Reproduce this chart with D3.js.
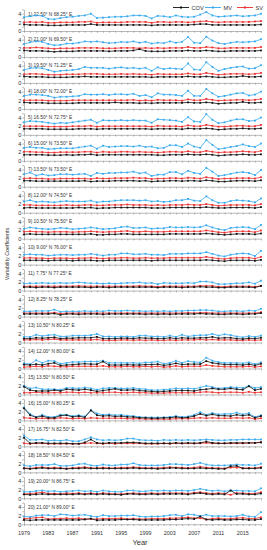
<!DOCTYPE html>
<html><head><meta charset="utf-8">
<script src="https://cdn.jsdelivr.net/npm/d3@7"></script>
<style>body{margin:0;background:#fff}svg{display:block}text{font-family:"Liberation Sans Narrow","Liberation Sans",Arial,sans-serif}</style>
</head><body><svg id="c" width="267" height="550"></svg>
<script>
const years = [1979,1980,1981,1982,1983,1984,1985,1986,1987,1988,1989,1990,1991,1992,1993,1994,1995,1996,1997,1998,1999,2000,2001,2002,2003,2004,2005,2006,2007,2008,2009,2010,2011,2012,2013,2014,2015,2016,2017,2018];
const yearLabels = [1979,1983,1987,1991,1995,1999,2003,2007,2011,2015];
const yTicks = [0,1,2,3,4,5];
const yTickLabels = [0,2,4];
const seriesNames = ["COV","MV","SV"];
const stationLabels = [
"1) 22.50° N  68.25° E","2) 21.00° N  69.50° E","3) 19.50° N  71.25° E","4) 18.00° N  72.00° E",
"5) 16.50° N  72.75° E","6) 15.00° N  73.50° E","7) 13.50° N  73.50° E","8) 12.00° N  74.50° E",
"9) 10.50° N  75.50° E","10) 9.00° N  76.00° E","11) 7.75° N  77.25° E","12) 8.25° N  78.25° E",
"13) 10.50° N  80.25° E","14) 12.00° N  80.00° E","15) 13.50° N  80.50° E","16) 15.00° N 80.25° E",
"17) 16.75° N  82.50° E","18) 18.50° N  84.50° E","19) 20.00° N  86.75° E","20) 21.00° N  89.00° E"];

const mvData = [
[3.2,3.4,3.6,3.5,2.8,2.7,3.0,3.2,3.3,3.5, 3.6,4.0,3.0,3.1,3.2,3.3,3.3,3.4,3.6,3.6, 3.5,2.9,3.5,3.4,3.2,3.6,3.3,3.2,3.3,3.8, 4.4,3.6,3.3,3.4,3.5,3.6,3.4,3.5,3.6,4.0],
[3.0,3.4,3.6,3.5,3.0,2.7,2.8,3.1,3.1,3.3, 3.6,3.5,3.6,3.4,3.2,3.3,3.5,3.4,3.6,3.3, 3.5,3.1,3.3,3.2,3.6,3.3,3.5,4.6,3.3,3.2, 4.7,3.8,3.2,3.0,3.3,3.5,3.4,3.5,3.6,4.1],
[3.0,3.4,3.5,3.4,3.0,2.6,2.8,2.9,3.0,3.2, 3.7,3.5,3.5,3.5,3.3,3.5,3.6,3.4,3.5,3.3, 3.5,2.8,3.6,3.2,3.4,3.3,3.2,4.5,3.1,3.0, 4.8,3.7,2.8,3.2,3.5,3.7,3.8,3.3,3.4,4.1],
[3.0,3.3,3.3,3.2,3.0,2.6,2.8,2.8,2.9,3.0, 3.4,3.3,3.3,3.4,3.2,3.4,3.4,3.3,3.5,3.0, 3.2,2.7,3.6,3.3,3.3,3.2,3.0,4.2,3.0,3.0, 4.6,3.6,2.8,3.0,3.3,3.6,3.7,3.1,3.3,4.0],
[2.9,3.2,3.1,3.0,2.8,2.6,2.8,2.7,2.9,3.1, 3.3,3.5,2.8,3.4,3.3,3.3,3.4,3.3,3.4,3.3, 3.3,2.8,3.6,3.5,3.4,3.3,3.0,4.1,3.1,3.0, 4.8,3.5,2.7,2.9,3.3,3.6,3.6,3.2,3.3,4.0],
[3.0,3.2,3.0,3.0,2.7,2.8,2.9,2.9,2.9,3.1, 3.3,3.5,2.8,3.5,3.2,3.3,3.4,3.4,3.3,3.5, 3.2,3.3,2.9,3.0,3.6,3.6,3.2,4.0,3.3,3.0, 4.8,3.7,2.7,2.9,3.2,3.4,3.8,3.4,3.2,4.0],
[2.9,3.3,2.6,2.9,2.6,2.7,2.9,2.9,2.8,2.9, 3.0,2.5,3.2,3.0,3.2,3.2,3.3,3.3,3.5,3.1, 3.3,2.5,2.8,2.8,3.4,3.4,2.9,3.7,3.2,3.0, 4.4,3.5,2.5,2.7,3.0,3.3,3.4,3.2,2.7,3.9],
[2.6,2.9,2.5,2.6,2.5,2.4,2.6,2.7,2.6,2.6, 2.6,2.8,2.4,2.6,2.6,2.8,2.9,2.9,2.9,2.8, 2.9,2.6,2.7,2.5,2.6,2.9,2.9,3.2,2.8,2.7, 3.8,2.9,2.3,2.3,2.7,2.9,2.8,2.7,2.4,3.3],
[2.3,2.6,2.4,2.3,2.2,2.3,2.5,2.4,2.2,2.3, 2.4,2.6,2.4,2.2,2.3,2.4,2.7,2.8,2.5,2.5, 2.6,2.3,2.4,2.4,2.7,2.6,2.6,2.7,2.6,2.7, 3.1,2.6,2.2,2.0,2.5,2.6,2.7,2.6,2.2,3.2],
[2.3,2.4,2.3,2.3,2.1,2.2,2.3,2.3,2.2,2.3, 2.3,2.5,2.3,2.1,2.3,2.3,2.6,2.6,2.4,2.4, 2.5,2.3,2.3,2.2,2.5,2.5,2.5,2.6,2.6,2.6, 2.9,2.5,2.1,1.9,2.3,2.5,2.6,2.5,2.0,3.2],
[1.6,1.7,1.7,1.8,1.7,1.7,1.8,1.7,1.8,1.9, 1.8,1.7,1.7,1.6,1.7,1.6,1.7,1.8,1.8,1.9, 1.7,1.8,1.5,1.8,1.7,1.7,1.7,1.8,1.7,2.1, 2.1,1.9,1.5,1.5,1.6,1.7,1.7,1.9,1.6,2.3],
[1.2,1.2,1.3,1.3,1.3,1.6,1.1,1.2,1.2,1.2, 1.3,1.2,1.3,1.2,1.4,1.3,1.3,1.4,1.3,1.3, 1.2,1.3,1.2,1.3,1.2,1.3,1.3,1.4,1.4,1.5, 1.5,1.4,1.2,1.2,1.3,1.3,1.2,1.4,1.3,1.8],
[1.3,1.3,1.8,1.5,1.7,1.8,1.4,1.4,1.6,1.6, 1.6,1.7,2.0,1.4,1.4,1.3,1.4,1.4,1.3,1.6, 1.6,1.4,1.4,1.3,1.6,1.3,1.8,1.4,1.6,1.7, 1.7,2.0,1.6,1.9,1.7,1.4,1.2,1.5,1.3,1.6],
[1.2,1.0,1.9,1.3,1.8,1.7,1.1,1.3,1.5,1.5, 1.6,1.6,1.6,1.8,1.3,1.3,1.3,1.3,1.3,1.2, 1.4,1.4,1.6,1.1,1.3,1.8,1.3,1.7,1.5,1.4, 2.5,1.8,1.5,1.3,1.3,1.3,1.2,1.4,1.0,1.4],
[2.0,1.4,1.6,1.2,1.2,1.2,1.1,1.5,1.5,1.4, 1.6,1.4,1.1,1.4,1.5,1.5,1.4,1.4,1.5,1.3, 1.2,1.0,1.0,1.1,1.2,1.4,1.3,1.4,1.3,1.6, 2.0,1.7,1.4,1.5,1.7,1.6,1.5,2.0,1.5,1.7],
[3.0,1.5,0.8,1.3,0.8,0.8,1.3,1.3,1.0,1.2, 0.9,2.4,1.6,1.3,1.4,1.2,1.3,1.1,1.0,0.8, 0.7,0.7,0.7,0.7,0.8,1.0,0.8,0.9,1.3,1.9, 1.3,1.7,1.4,1.5,1.5,1.8,1.4,1.7,0.8,1.2],
[2.5,1.5,1.5,1.6,1.3,1.4,1.3,1.5,1.2,1.2, 1.6,2.1,1.6,1.4,1.5,1.4,1.5,1.8,1.8,1.5, 1.4,1.4,1.3,1.5,1.4,1.5,1.4,1.5,1.4,1.5, 1.6,1.5,1.4,1.4,1.5,1.5,1.6,1.6,1.6,1.6],
[1.6,1.4,1.7,1.7,1.7,1.9,1.5,1.5,1.6,1.9, 2.0,1.6,1.5,1.8,1.6,1.6,1.8,1.8,2.1,1.7, 1.6,1.6,1.6,1.7,1.9,1.9,1.8,1.7,1.9,2.2, 1.8,1.6,1.6,1.6,1.7,1.8,1.7,1.7,1.6,2.0],
[1.5,1.5,1.7,1.8,1.6,1.7,1.5,1.6,1.7,1.8, 1.6,1.7,1.5,1.8,1.6,1.5,1.5,1.8,1.8,1.6, 1.6,1.8,1.7,1.8,1.7,1.8,1.8,1.7,1.9,2.2, 1.9,1.7,1.8,1.6,1.8,1.8,1.7,1.7,1.6,2.3],
[1.8,1.7,2.0,2.1,2.1,1.9,2.3,2.2,2.0,2.1, 2.2,1.9,1.7,2.1,1.9,1.9,2.0,2.0,2.1,1.8, 1.7,1.8,1.8,1.9,2.1,2.2,1.9,2.3,2.2,1.9, 2.2,1.9,1.9,1.9,1.8,1.9,2.2,1.8,1.7,2.8]];

const svData = [
[2.0,2.1,2.0,2.1,1.9,1.9,2.0,2.0,2.0,2.1, 2.1,2.2,1.9,2.0,2.0,2.0,2.0,2.1,2.1,2.1, 2.1,1.9,2.1,2.1,2.0,2.1,2.1,2.0,2.1,2.2, 2.3,2.1,2.0,2.1,2.1,2.1,2.1,2.1,2.2,2.3],
[2.1,2.1,2.2,2.1,2.0,1.9,2.0,2.0,2.0,2.1, 2.1,2.1,2.1,2.0,2.0,2.0,2.1,2.1,2.1,2.0, 2.1,2.0,2.1,2.0,2.1,2.1,2.1,2.3,2.1,2.1, 2.3,2.2,2.0,2.0,2.1,2.1,2.1,2.1,2.1,2.3],
[2.0,2.1,2.1,2.0,1.9,1.9,1.9,2.0,2.0,2.0, 2.1,2.1,2.1,2.0,2.0,2.0,2.1,2.0,2.1,2.0, 2.0,1.9,2.1,2.0,2.0,2.0,2.0,2.2,2.0,2.0, 2.3,2.1,1.9,2.0,2.1,2.1,2.1,2.0,2.1,2.3],
[2.0,2.0,2.0,2.0,1.9,1.9,1.9,1.9,2.0,2.0, 2.0,2.0,2.0,2.0,2.0,2.0,2.0,2.0,2.1,1.9, 2.0,1.9,2.1,2.0,2.0,2.0,1.9,2.2,2.0,2.0, 2.3,2.1,1.9,2.0,2.0,2.1,2.1,2.0,2.1,2.3],
[2.0,2.0,2.0,2.0,1.9,1.9,1.9,1.9,2.0,2.0, 2.0,2.1,1.9,2.0,2.0,2.0,2.0,2.0,2.0,2.0, 2.0,1.9,2.1,2.0,2.0,2.0,1.9,2.2,2.0,2.0, 2.3,2.1,1.9,1.9,2.0,2.1,2.1,2.0,2.0,2.3],
[2.1,2.1,2.0,2.0,1.9,1.9,2.0,2.0,2.0,2.0, 2.1,2.1,1.9,2.1,2.0,2.0,2.1,2.1,2.0,2.1, 2.0,2.0,1.9,2.0,2.1,2.1,2.0,2.2,2.0,2.0, 2.3,2.1,1.9,2.0,2.0,2.1,2.2,2.1,2.0,2.3],
[1.9,2.0,1.9,1.9,1.8,1.8,1.9,1.9,1.9,1.9, 1.9,1.8,2.0,1.9,1.9,2.0,2.0,2.0,2.1,2.0, 2.0,1.8,1.9,1.9,2.0,2.0,1.9,2.1,2.0,1.9, 2.2,2.0,1.8,1.9,1.9,2.0,2.0,2.0,1.9,2.2],
[1.8,1.8,1.7,1.7,1.7,1.7,1.7,1.8,1.7,1.7, 1.8,1.8,1.7,1.7,1.8,1.8,1.8,1.9,1.8,1.8, 1.8,1.7,1.8,1.7,1.8,1.8,1.8,1.9,1.8,1.8, 2.0,1.8,1.6,1.7,1.8,1.8,1.8,1.8,1.7,2.0],
[1.6,1.7,1.6,1.6,1.5,1.6,1.6,1.6,1.5,1.6, 1.6,1.7,1.6,1.5,1.6,1.6,1.7,1.8,1.6,1.6, 1.7,1.6,1.6,1.6,1.7,1.7,1.7,1.7,1.7,1.7, 1.9,1.7,1.5,1.4,1.6,1.7,1.7,1.7,1.5,1.9],
[1.5,1.6,1.5,1.5,1.4,1.5,1.5,1.5,1.4,1.5, 1.5,1.6,1.5,1.4,1.5,1.5,1.6,1.6,1.5,1.5, 1.6,1.5,1.5,1.5,1.6,1.6,1.6,1.6,1.6,1.6, 1.8,1.6,1.4,1.3,1.5,1.6,1.6,1.6,1.4,1.8],
[1.0,1.0,1.0,1.0,1.0,1.0,1.0,1.0,1.0,1.1, 1.0,1.0,1.0,1.0,1.0,1.0,1.0,1.0,1.0,1.1, 1.0,1.0,0.9,1.0,1.0,1.0,1.0,1.0,1.0,1.1, 1.1,1.1,0.9,0.9,1.0,1.0,1.0,1.0,0.9,1.1],
[0.8,0.8,0.8,0.8,0.8,0.9,0.7,0.8,0.8,0.8, 0.8,0.8,0.8,0.8,0.8,0.8,0.8,0.8,0.8,0.8, 0.8,0.8,0.8,0.8,0.8,0.8,0.8,0.9,0.8,0.9, 0.9,0.8,0.8,0.8,0.8,0.8,0.8,0.8,0.8,1.0],
[0.6,0.6,0.7,0.6,0.7,0.8,0.6,0.6,0.6,0.6, 0.6,0.6,0.7,0.5,0.5,0.5,0.6,0.6,0.5,0.6, 0.5,0.6,0.5,0.5,0.6,0.5,0.6,0.6,0.6,0.7, 0.6,0.7,0.6,0.6,0.6,0.5,0.5,0.6,0.5,0.6],
[0.3,0.4,0.5,0.4,0.6,0.5,0.4,0.4,0.5,0.5, 0.5,0.5,0.5,0.6,0.4,0.4,0.4,0.5,0.4,0.4, 0.5,0.4,0.5,0.3,0.4,0.6,0.4,0.5,0.5,0.5, 0.8,0.6,0.5,0.4,0.4,0.4,0.4,0.5,0.3,0.5],
[0.4,0.4,0.5,0.4,0.4,0.4,0.4,0.5,0.5,0.4, 0.5,0.4,0.4,0.4,0.5,0.5,0.4,0.4,0.5,0.4, 0.4,0.3,0.3,0.3,0.4,0.4,0.4,0.4,0.4,0.5, 0.6,0.5,0.4,0.5,0.5,0.5,0.4,0.6,0.4,0.5],
[0.6,0.5,0.4,0.5,0.4,0.4,0.6,0.5,0.4,0.5, 0.4,0.6,0.5,0.5,0.5,0.5,0.5,0.4,0.4,0.4, 0.3,0.3,0.3,0.3,0.3,0.4,0.4,0.4,0.5,0.6, 0.5,0.6,0.5,0.5,0.5,0.6,0.5,0.6,0.3,0.5],
[0.7,0.6,0.7,0.7,0.6,0.6,0.6,0.6,0.6,0.6, 0.7,0.8,0.7,0.6,0.7,0.6,0.7,0.7,0.7,0.7, 0.6,0.6,0.6,0.7,0.6,0.7,0.7,0.7,0.7,0.7, 0.8,0.7,0.7,0.7,0.7,0.7,0.7,0.8,0.8,1.0],
[1.0,0.9,1.1,1.2,1.0,1.1,1.0,0.9,1.0,1.1, 1.2,1.0,1.0,1.1,1.0,1.0,1.1,1.1,1.2,1.1, 1.0,1.0,1.0,1.1,1.2,1.1,1.1,1.0,1.1,1.3, 1.1,1.0,1.0,0.9,1.1,1.1,1.0,1.0,1.0,1.2],
[1.0,1.1,1.2,1.4,1.1,1.1,1.0,1.2,1.1,1.2, 1.0,1.2,1.0,1.2,1.1,1.0,1.0,1.1,1.2,1.1, 1.1,1.2,1.1,1.2,1.2,1.2,1.2,1.1,1.3,1.4, 1.2,1.1,1.2,1.1,0.8,1.2,1.2,1.1,1.1,1.4],
[1.3,1.4,1.5,1.6,1.2,1.3,1.3,1.4,1.3,1.4, 1.2,1.2,1.2,1.3,1.3,1.3,1.4,1.2,1.3,1.2, 1.2,1.3,1.3,1.3,1.4,1.4,1.5,1.6,1.4,1.4, 1.1,1.3,1.4,1.2,1.3,1.4,1.5,1.3,1.3,1.6]];

const covData = [
[1.5,1.4,1.4,1.4,1.3,1.3,1.3,1.4,1.4,1.4, 1.4,1.6,1.4,1.4,1.4,1.4,1.4,1.4,1.4,1.4, 1.4,1.3,1.4,1.4,1.4,1.4,1.4,1.4,1.5,1.6, 1.6,1.4,1.4,1.4,1.4,1.4,1.4,1.4,1.4,1.5],
[1.5,1.4,1.4,1.4,1.3,1.2,1.3,1.3,1.3,1.4, 1.4,1.4,1.4,1.4,1.3,1.4,1.4,1.4,1.5,1.8, 1.4,1.3,1.3,1.3,1.4,1.4,1.4,1.5,1.4,1.4, 1.5,1.4,1.3,1.3,1.4,1.4,1.4,1.4,1.4,1.5],
[1.5,1.4,1.4,1.4,1.3,1.3,1.3,1.3,1.4,1.4, 1.5,1.4,1.4,1.4,1.4,1.4,1.4,1.4,1.4,1.4, 1.4,1.3,1.4,1.4,1.4,1.4,1.4,1.5,1.4,1.4, 1.5,1.4,1.3,1.3,1.4,1.4,1.6,1.4,1.4,1.5],
[1.5,1.4,1.4,1.4,1.3,1.3,1.3,1.3,1.3,1.4, 1.4,1.4,1.4,1.4,1.4,1.5,1.4,1.4,1.4,1.3, 1.4,1.3,1.4,1.4,1.4,1.4,1.4,1.5,1.4,1.4, 1.5,1.4,1.2,1.3,1.4,1.4,1.6,1.4,1.4,1.5],
[1.4,1.4,1.4,1.4,1.3,1.3,1.3,1.3,1.3,1.4, 1.4,1.4,1.3,1.4,1.4,1.4,1.4,1.4,1.4,1.4, 1.4,1.3,1.4,1.4,1.4,1.4,1.3,1.5,1.4,1.4, 1.5,1.4,1.2,1.3,1.4,1.4,1.5,1.4,1.4,1.5],
[1.4,1.4,1.4,1.4,1.3,1.3,1.3,1.4,1.3,1.4, 1.4,1.5,1.3,1.4,1.4,1.4,1.4,1.4,1.4,1.4, 1.4,1.4,1.3,1.3,1.4,1.4,1.4,1.5,1.4,1.4, 1.5,1.4,1.2,1.3,1.4,1.4,1.5,1.4,1.4,1.5],
[1.4,1.4,1.3,1.3,1.3,1.3,1.3,1.3,1.3,1.3, 1.4,1.2,1.3,1.3,1.3,1.4,1.4,1.4,1.4,1.3, 1.4,1.2,1.3,1.3,1.4,1.4,1.3,1.4,1.4,1.3, 1.5,1.4,1.2,1.2,1.3,1.4,1.4,1.4,1.3,1.5],
[1.1,1.2,1.1,1.1,1.1,1.1,1.1,1.1,1.1,1.2, 1.1,1.2,1.0,1.1,1.1,1.2,1.2,1.2,1.2,1.2, 1.2,1.1,1.1,1.1,1.2,1.2,1.2,1.2,1.2,1.2, 1.3,1.2,1.1,1.1,1.2,1.2,1.2,1.2,1.1,1.3],
[1.0,1.1,1.0,1.0,1.0,1.0,1.0,1.0,1.0,1.0, 1.0,1.1,0.9,0.9,1.0,1.0,1.1,1.1,1.0,1.0, 1.0,1.0,1.0,1.0,1.1,1.1,1.1,1.1,1.1,1.1, 1.2,1.1,1.0,0.9,1.0,1.1,1.1,1.1,1.0,1.2],
[1.0,1.0,1.0,1.0,0.9,1.0,1.0,1.0,0.9,1.0, 1.0,1.0,0.9,0.9,1.0,1.0,1.0,1.0,1.0,1.0, 1.0,0.9,1.0,1.0,1.0,1.0,1.0,1.0,1.0,1.0, 1.1,1.0,0.9,0.8,1.0,1.0,1.0,1.0,0.9,1.1],
[0.8,0.8,0.7,0.8,0.8,0.7,0.8,0.8,0.8,0.8, 0.8,0.7,0.8,0.8,0.7,0.8,0.8,0.8,0.8,0.8, 0.8,0.8,0.7,0.8,0.8,0.8,0.7,0.8,0.8,0.9, 0.8,0.8,0.7,0.7,0.8,0.8,0.8,0.8,0.7,1.1],
[0.6,0.6,0.6,0.6,0.6,0.7,0.4,0.6,0.6,0.5, 0.6,0.6,0.6,0.5,0.6,0.6,0.6,0.6,0.6,0.6, 0.5,0.6,0.5,0.6,0.5,0.6,0.6,0.6,0.6,0.7, 0.6,0.6,0.5,0.5,0.6,0.6,0.5,0.6,0.6,0.8],
[0.9,0.9,1.1,1.0,1.1,1.2,0.9,1.0,1.0,1.1, 1.1,1.1,1.3,0.9,0.9,0.9,1.0,1.0,0.9,1.1, 1.0,1.0,0.9,0.9,1.1,0.9,1.1,1.0,1.0,1.1, 1.1,1.3,1.0,1.1,1.1,0.9,0.8,1.0,0.9,1.1],
[0.9,0.8,1.0,0.8,1.1,1.3,0.7,0.8,0.9,1.0, 1.1,1.0,1.0,1.6,0.8,0.8,0.8,0.9,0.8,0.8, 0.9,0.9,1.0,0.7,0.9,1.2,0.9,1.0,1.0,1.0, 1.7,1.3,1.1,0.9,0.9,0.9,0.8,1.0,0.7,1.1],
[1.8,1.0,0.8,0.8,0.8,1.0,0.8,1.2,1.1,1.0, 1.2,1.0,0.7,0.9,1.1,1.3,1.0,1.0,1.1,0.9, 0.8,0.7,0.6,0.7,0.8,0.9,0.9,0.9,0.8,1.1, 1.2,1.4,1.2,1.2,1.4,1.2,1.1,1.9,1.0,1.3],
[2.8,1.2,0.7,1.0,0.6,0.6,1.1,1.2,0.8,1.0, 0.7,2.3,1.2,1.0,1.1,0.9,1.0,0.8,0.8,0.6, 0.6,0.5,0.5,0.6,0.6,0.8,0.6,0.7,1.0,1.5, 1.1,1.4,1.1,1.1,1.0,1.3,1.1,1.3,0.6,1.0],
[2.0,0.7,0.8,0.8,0.7,0.7,0.7,0.7,0.6,0.6, 0.9,1.6,0.8,0.7,0.8,0.8,0.8,0.9,0.9,0.8, 0.7,0.7,0.7,0.7,0.7,0.8,0.7,0.8,0.7,0.8, 1.1,0.8,0.7,0.7,0.8,0.8,0.8,0.8,0.8,0.9],
[0.9,0.8,0.9,1.0,0.9,0.9,0.9,0.8,0.9,0.9, 1.0,0.9,0.9,0.9,0.9,0.9,0.9,0.9,1.0,0.9, 0.9,0.9,0.8,0.9,1.0,1.0,0.9,0.9,0.9,1.0, 0.9,0.9,0.8,0.8,1.4,1.5,0.9,0.9,0.9,1.0],
[0.9,0.8,0.9,1.0,0.9,0.9,0.9,0.9,0.9,1.0, 0.9,1.0,0.9,1.0,0.9,0.9,0.8,1.0,1.0,0.9, 0.9,1.0,0.9,1.0,1.0,1.0,1.0,0.9,1.1,1.2, 1.0,0.9,1.0,0.9,1.8,1.0,1.0,0.9,0.9,1.1],
[1.0,0.9,1.0,1.0,1.0,1.0,1.0,1.0,1.0,1.0, 1.1,1.3,0.9,1.0,1.0,1.0,1.1,1.1,1.1,1.0, 1.0,1.0,1.0,1.0,1.1,1.1,1.2,1.3,1.2,1.8, 1.1,1.0,1.1,1.0,1.0,1.1,1.1,1.0,1.0,1.2]];

const colors = {COV:"#111111", MV:"#35a8ee", SV:"#ee2b2b"};
const axisColor = "#8a8a8a";

const svg = d3.select("#c");
const x = d3.scaleLinear().domain([1979, 2018]).range([24, 261]);
const step = 25.96, firstZero = 31;

stationLabels.forEach((lab, i) => {
  const base = firstZero + i * step;
  const y = d3.scaleLinear().domain([0, 5]).range([base, base - 21.6]);
  const g = svg.append("g");
  const xa = g.append("g").attr("transform", `translate(0,${base})`)
    .call(d3.axisBottom(x).tickValues(years).tickSize(1.8).tickSizeOuter(0).tickFormat(""));
  xa.selectAll("path,line").attr("stroke", axisColor).attr("stroke-width", 0.6);
  const ya = g.append("g").attr("transform", `translate(24,0)`)
    .call(d3.axisLeft(y).tickValues(yTicks).tickSize(1.8).tickSizeOuter(0)
      .tickFormat(d => yTickLabels.includes(d) ? d : ""));
  ya.selectAll("path,line").attr("stroke", axisColor).attr("stroke-width", 0.6);
  ya.selectAll("text").attr("font-size", 5.6).attr("fill", "#333").attr("x", -2.6);
  g.append("text").attr("x", 28).attr("y", y(4) + 1.8).attr("font-size", 4.8)
    .attr("fill", "#333").text(lab);
  const series = {COV: covData[i], MV: mvData[i], SV: svData[i]};
  ["SV","MV","COV"].forEach(name => {
    const vals = series[name];
    const line = d3.line().x((d, k) => x(years[k])).y(d => y(d));
    g.append("path").datum(vals).attr("d", line).attr("fill", "none")
      .attr("stroke", colors[name]).attr("stroke-width", 0.8);
    g.selectAll(null).data(vals).enter().append("rect")
      .attr("x", (d, k) => x(years[k]) - 0.9).attr("y", d => y(d) - 0.9)
      .attr("width", 1.8).attr("height", 1.8).attr("fill", colors[name]);
  });
  if (i === stationLabels.length - 1) {
    g.selectAll(null).data(yearLabels).enter().append("text")
      .attr("x", d => x(d)).attr("y", base + 10.5).attr("text-anchor", "middle")
      .attr("font-size", 5.4).attr("fill", "#333").text(d => d);
  }
});

svg.append("text").attr("x", 140).attr("y", 545).attr("text-anchor", "middle")
  .attr("font-size", 7.5).attr("fill", "#333").text("Year");
svg.append("text").attr("transform", "translate(8.5,254) rotate(-90)").attr("text-anchor", "middle")
  .attr("font-size", 5.4).attr("fill", "#333").text("Variability Coefficients");

const legendX = [173, 205, 237];
seriesNames.forEach((name, k) => {
  const lx = legendX[k], ly = 7.5;
  svg.append("line").attr("x1", lx).attr("x2", lx + 16).attr("y1", ly).attr("y2", ly)
    .attr("stroke", colors[name]).attr("stroke-width", 0.9);
  svg.append("rect").attr("x", lx + 8 - 1).attr("y", ly - 1).attr("width", 2).attr("height", 2)
    .attr("fill", colors[name]);
  svg.append("text").attr("x", lx + 18.5).attr("y", ly + 2).attr("font-size", 5.6)
    .attr("fill", "#333").text(name);
});
</script></body></html>
